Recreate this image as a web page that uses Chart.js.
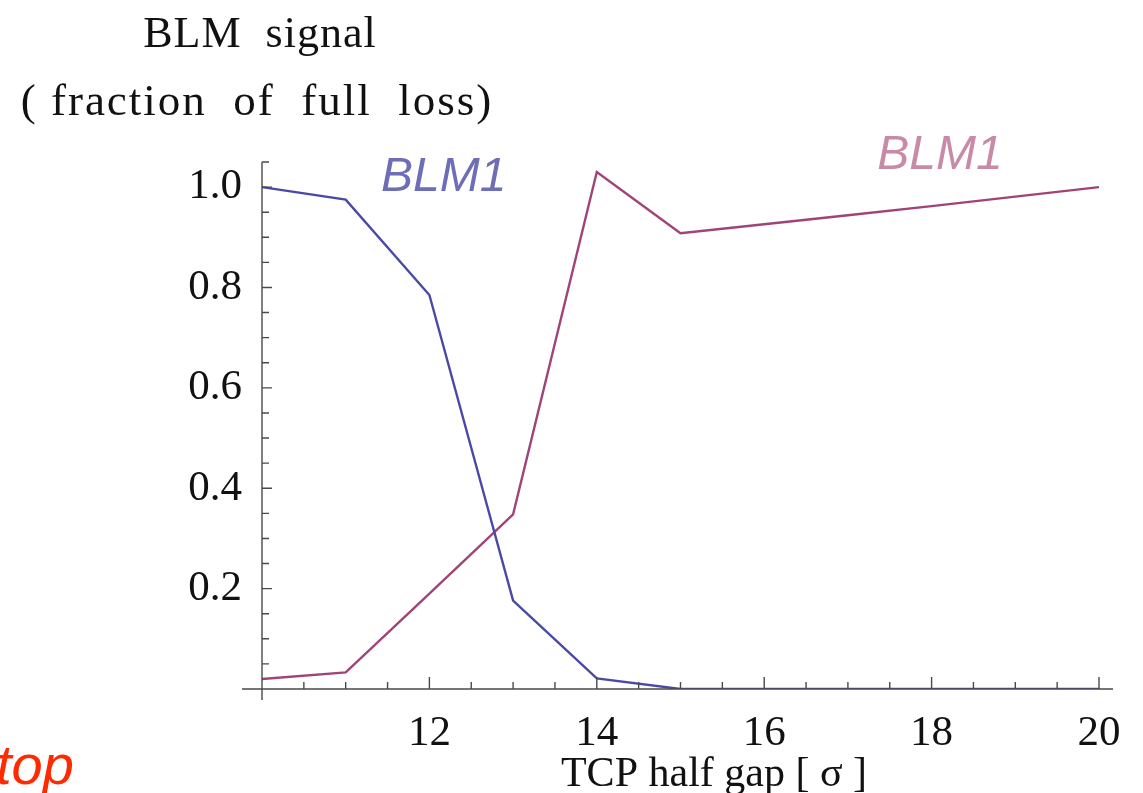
<!DOCTYPE html>
<html>
<head>
<meta charset="utf-8">
<script src="https://cdn.jsdelivr.net/npm/chart.js@4/dist/chart.umd.min.js"></script>
<style>
  html, body { margin: 0; padding: 0; background: #fff; }
  #wrap { position: relative; width: 1143px; height: 793px; }
</style>
</head>
<body>
<div id="wrap"><canvas id="blm"></canvas></div>
<script>
// TCP half gap scan: BLM response vs collimator half gap
const GAP = [10, 11, 12, 13, 14, 15, 16, 17, 18, 19, 20]
const BLM_UP = [1.0, 0.975, 0.785, 0.176, 0.021, 0, 0, 0, 0, 0, 0]
const BLM_DOWN = [0.02, 0.033, 0.19, 0.348, 1.03, 0.908, 0.926, 0.944, 0.962, 0.981, 1.0]
const X_TICKS = [12, 14, 16, 18, 20]
const Y_TICKS = [0.2, 0.4, 0.6, 0.8, 1.0]

const BLUE = "#4a4aa6"
const PLUM = "#a04478"
const AXIS = "#4a4a4a"
const INK = "#111"
const SERIF = "'Liberation Serif', 'Times New Roman', serif"
const SANS = "'Liberation Sans', Arial, sans-serif"

// curve labels, placed in data units
const CURVE_TAGS = [
  { text: "BLM1", x: 12.17, y: 1.018, color: "#6d6db8" },
  { text: "BLM1", x: 18.1, y: 1.062, color: "#c88aa6" },
]

// Mathematica-style frame: axes crossing past the origin, ticks pointing inward
const frame = {
  id: "frame",
  afterDraw(chart) {
    const { ctx, chartArea: a, scales } = chart
    const xs = scales.x, ys = scales.y
    const x0 = xs.getPixelForValue(10), y0 = ys.getPixelForValue(0)
    ctx.save()
    ctx.strokeStyle = AXIS
    ctx.lineWidth = 1.4
    ctx.beginPath()
    ctx.moveTo(x0 - 20, y0); ctx.lineTo(a.right + 14, y0)
    ctx.moveTo(x0, ys.getPixelForValue(ys.max)); ctx.lineTo(x0, y0 + 11)
    for (let v = 10.5; v <= 20.001; v += 0.5) {
      const px = xs.getPixelForValue(v)
      const len = Math.abs(v % 2) < 1e-6 ? 12 : 7
      ctx.moveTo(px, y0); ctx.lineTo(px, y0 - len)
    }
    for (let v = 0.05; v <= ys.max + 0.001; v += 0.05) {
      const py = ys.getPixelForValue(v)
      const major = Math.abs(v / 0.2 - Math.round(v / 0.2)) < 1e-6
      ctx.moveTo(x0, py); ctx.lineTo(x0 + (major ? 10 : 7), py)
    }
    ctx.stroke()

    ctx.textBaseline = "alphabetic"
    ctx.textAlign = "center"
    ctx.fillStyle = INK
    ctx.font = `44px ${SERIF}`
    ctx.letterSpacing = "1px"
    ctx.fillText("BLM  signal", 260, 47)
    ctx.font = `45px ${SERIF}`
    ctx.letterSpacing = "2px"
    ctx.fillText("( fraction  of  full  loss)", 257, 115)
    ctx.letterSpacing = "0px"
    ctx.font = `42px ${SERIF}`
    ctx.fillText("TCP half gap [ σ ]", 714, 786)

    ctx.font = `italic 48px ${SANS}`
    CURVE_TAGS.forEach((t) => {
      ctx.fillStyle = t.color
      ctx.textBaseline = "middle"
      ctx.fillText(t.text, xs.getPixelForValue(t.x), ys.getPixelForValue(t.y))
    })

    ctx.textAlign = "left"
    ctx.textBaseline = "alphabetic"
    ctx.fillStyle = "#ff2a00"
    ctx.font = `italic 56px ${SANS}`
    ctx.fillText("top", -4, 784)
    ctx.restore()
  },
}

new Chart(document.getElementById("blm"), {
  type: "line",
  data: {
    labels: GAP,
    datasets: [
      { data: GAP.map((g, i) => ({ x: g, y: BLM_UP[i] })), borderColor: BLUE, borderWidth: 2.4, pointRadius: 0, tension: 0 },
      { data: GAP.map((g, i) => ({ x: g, y: BLM_DOWN[i] })), borderColor: PLUM, borderWidth: 2.4, pointRadius: 0, tension: 0 },
    ],
  },
  options: {
    responsive: true,
    maintainAspectRatio: false,
    animation: false,
    layout: { padding: { left: 0, right: 44, top: 162, bottom: 0 } },
    plugins: { legend: { display: false }, tooltip: { enabled: false } },
    scales: {
      x: {
        type: "linear",
        min: 10,
        max: 20,
        afterFit: (s) => { s.height = 104 },
        afterBuildTicks: (s) => { s.ticks = X_TICKS.map((v) => ({ value: v })) },
        grid: { display: false, drawTicks: false },
        border: { display: false },
        ticks: { color: INK, padding: 19, maxRotation: 0, font: { family: SERIF, size: 43 } },
      },
      y: {
        min: 0,
        max: 1.05,
        afterFit: (s) => { s.width = 262 },
        afterBuildTicks: (s) => { s.ticks = Y_TICKS.map((v) => ({ value: v })) },
        grid: { display: false, drawTicks: false },
        border: { display: false },
        ticks: { color: INK, padding: 20, font: { family: SERIF, size: 43 }, callback: (v) => v.toFixed(1) },
      },
    },
  },
  plugins: [frame],
})
</script>
</body>
</html>
